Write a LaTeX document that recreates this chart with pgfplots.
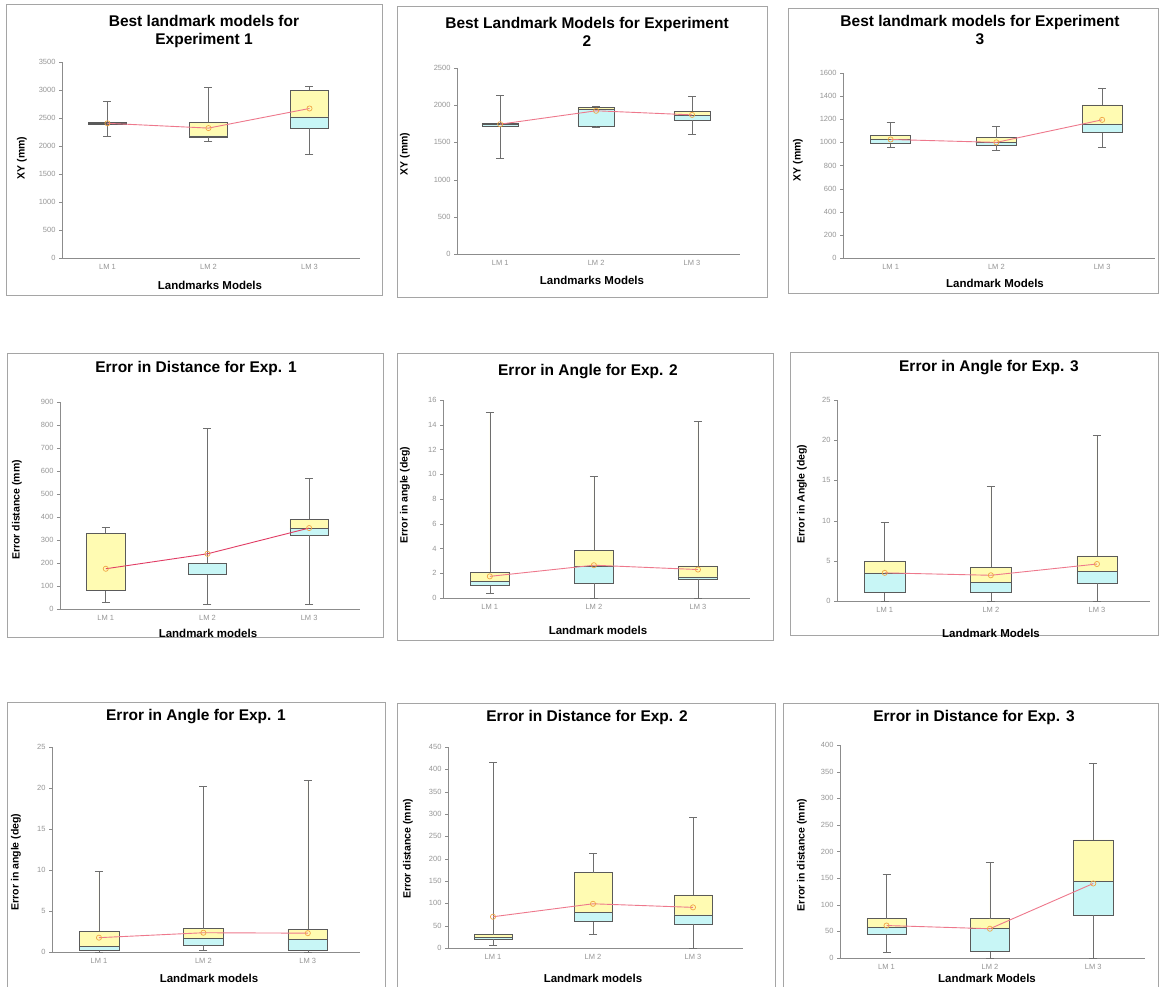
\documentclass[border=0pt]{standalone}
\usepackage{fontspec}
\setmainfont{Liberation Sans}
\usepackage{pgfplots}
\usepackage{pgfplotstable}
\pgfplotsset{compat=1.18}
\definecolor{boxcyan}{RGB}{200,246,246}
\definecolor{boxyellow}{RGB}{255,251,178}
\definecolor{boxedge}{RGB}{90,90,90}
\definecolor{whisk}{RGB}{110,110,110}
\definecolor{meanline}{RGB}{238,120,140}
\definecolor{meanred}{RGB}{225,60,100}
\definecolor{meanmark}{RGB}{240,165,70}
\definecolor{axisgray}{RGB}{140,140,140}
\definecolor{ticktext}{RGB}{150,150,150}
\definecolor{framegray}{RGB}{165,165,165}

% x lw q1 med q3 uw mean
\pgfplotstableread{
x lw q1 med q3 uw mean
1 2180 2390 2410 2425 2800 2405
2 2080 2160 2180 2420 3050 2320
3 1860 2320 2520 3000 3070 2670
}\tA
\pgfplotstableread{
x lw q1 med q3 uw mean
1 1280 1720 1740 1760 2130 1745
2 1700 1720 1940 1970 1990 1925
3 1610 1800 1860 1920 2120 1870
}\tB
\pgfplotstableread{
x lw q1 med q3 uw mean
1 960 990 1030 1060 1170 1025
2 930 975 1000 1040 1140 1000
3 960 1085 1160 1325 1470 1195
}\tC
\pgfplotstableread{
x lw q1 med q3 uw mean
1 30 80 82 330 355 175
2 20 150 198 200 786 240
3 20 320 352 390 569 352
}\tD
\pgfplotstableread{
x lw q1 med q3 uw mean
1 0.35 1.0 1.35 2.1 15.0 1.75
2 0.0 1.2 2.6 3.85 9.8 2.65
3 0.0 1.55 1.7 2.6 14.3 2.3
}\tE
\pgfplotstableread{
x lw q1 med q3 uw mean
1 0.0 1.05 3.5 4.95 9.8 3.5
2 0.0 1.05 2.3 4.2 14.3 3.2
3 0.0 2.2 3.7 5.6 20.6 4.6
}\tF
\pgfplotstableread{
x lw q1 med q3 uw mean
1 0.0 0.2 0.7 2.55 9.9 1.75
2 0.2 0.8 1.7 2.85 20.2 2.35
3 0.0 0.2 1.5 2.8 21.0 2.3
}\tG
\pgfplotstableread{
x lw q1 med q3 uw mean
1 5 20 24 30 415 70
2 30 59 80 169 212 99
3 0 54 74 119 292 91
}\tH
\pgfplotstableread{
x lw q1 med q3 uw mean
1 10 44 58 74 158 61
2 0 12 56 74 180 55
3 0 80 144 222 366 140
}\tI

\pgfplotsset{
  panel/.style={
    scale only axis, anchor=south west,
    ybar stacked, bar width=0.38,
    axis lines*=left,
    axis line style={axisgray},
    ymin=0, xmin=0.55, xmax=3.5,
    enlarge x limits=false, enlarge y limits=false,
    xtick={1,2,3}, xticklabels={LM 1,LM 2,LM 3},
    xtick style={draw=none},
    ytick style={axisgray},
    tick align=outside,
    major tick length=3pt,
    tick label style={font=\fontsize{7.5}{9}\selectfont, text=ticktext},
    /pgf/number format/assume math mode=true,
    /pgf/number format/1000 sep={},
    clip=false,
  },
  meanov/.style={
    scale only axis, anchor=south west, hide axis,
    ymin=0, xmin=0.55, xmax=3.5,
    enlarge x limits=false, enlarge y limits=false,
    clip=false,
  }
}
\newcommand{\boxplots}[1]{% table
  \addplot[draw=none, fill=none,
    error bars/.cd, y dir=minus, y explicit,
    error bar style={draw=whisk, line width=0.6pt},
    error mark options={draw=whisk, rotate=90, mark size=4pt, line width=0.6pt}]
    table[x=x, y=q1, y error minus expr=\thisrow{q1}-\thisrow{lw}] {#1};
  \addplot[fill=boxcyan, draw=boxedge, line width=0.6pt]
    table[x=x, y expr=\thisrow{med}-\thisrow{q1}] {#1};
  \addplot[fill=boxyellow, draw=boxedge, line width=0.6pt,
    error bars/.cd, y dir=plus, y explicit,
    error bar style={draw=whisk, line width=0.6pt},
    error mark options={draw=whisk, rotate=90, mark size=4pt, line width=0.6pt}]
    table[x=x, y expr=\thisrow{q3}-\thisrow{med}, y error plus expr=\thisrow{uw}-\thisrow{q3}] {#1};
}
\newcommand{\meanplot}[2]{% table, colour
  \addplot[draw=#2, line width=0.9pt, mark=o, mark size=2.6pt,
    mark options={draw=meanmark, fill=none, solid, line width=0.7pt}]
    table[x=x, y=mean] {#1};
}
\newcommand{\ttl}{\fontsize{15.5}{18}\selectfont\bfseries}
\newcommand{\lbl}{\fontsize{11.5}{13}\selectfont\bfseries}
\newcommand{\ylbl}{\fontsize{10.5}{12}\selectfont\bfseries}

\begin{document}
\begin{tikzpicture}
\useasboundingbox (0pt,0pt) rectangle (1162pt,-986pt);
\fill[white] (0pt,0pt) rectangle (1162pt,-986pt);
% frames
\begin{scope}[framegray, line width=1pt]
\draw (6pt,-4pt) rectangle (382pt,-295pt);
\draw (397pt,-6pt) rectangle (767pt,-297pt);
\draw (788pt,-8pt) rectangle (1158pt,-293pt);
\draw (7pt,-353pt) rectangle (383pt,-637pt);
\draw (397pt,-353pt) rectangle (773pt,-640pt);
\draw (790pt,-352pt) rectangle (1158pt,-635pt);
\draw (7pt,-702pt) rectangle (385pt,-995pt);
\draw (397pt,-703pt) rectangle (775pt,-995pt);
\draw (783pt,-703pt) rectangle (1158pt,-995pt);
\end{scope}

% Panel 1
\begin{axis}[panel, at={(62pt,-258pt)}, width=298pt, height=196pt, ymax=3500, ytick distance=500]
\boxplots{\tA}
\end{axis}
\begin{axis}[meanov, at={(62pt,-258pt)}, width=298pt, height=196pt, ymax=3500]
\meanplot{\tA}{meanline}
\end{axis}
\node[align=center, font=\ttl] at (204pt,-31pt) {Best landmark models for\\Experiment 1};
\node[font=\lbl] at (210pt,-285pt) {Landmarks Models};
\node[font=\ylbl, rotate=90] at (22pt,-158pt) {XY (mm)};

% Panel 2
\begin{axis}[panel, at={(457pt,-254pt)}, width=283pt, height=186pt, ymax=2500, ytick distance=500]
\boxplots{\tB}
\end{axis}
\begin{axis}[meanov, at={(457pt,-254pt)}, width=283pt, height=186pt, ymax=2500]
\meanplot{\tB}{meanline}
\end{axis}
\node[align=center, font=\ttl] at (587pt,-32pt) {Best Landmark Models for Experiment\\2};
\node[font=\lbl] at (592pt,-280pt) {Landmarks Models};
\node[font=\ylbl, rotate=90] at (405pt,-154pt) {XY (mm)};

% Panel 3
\begin{axis}[panel, at={(843pt,-258pt)}, width=312pt, height=185pt, ymax=1600, ytick distance=200]
\boxplots{\tC}
\end{axis}
\begin{axis}[meanov, at={(843pt,-258pt)}, width=312pt, height=185pt, ymax=1600]
\meanplot{\tC}{meanline}
\end{axis}
\node[align=center, font=\ttl] at (980pt,-30pt) {Best landmark models for Experiment\\3};
\node[font=\lbl] at (995pt,-283pt) {Landmark Models};
\node[font=\ylbl, rotate=90] at (798pt,-160pt) {XY (mm)};

% Panel 4
\begin{axis}[panel, at={(60pt,-609pt)}, width=300pt, height=207pt, ymax=900, ytick distance=100]
\boxplots{\tD}
\end{axis}
\begin{axis}[meanov, at={(60pt,-609pt)}, width=300pt, height=207pt, ymax=900]
\meanplot{\tD}{meanred}
\end{axis}
\node[font=\ttl] at (196pt,-368pt) {Error in Distance for Exp. 1};
\node[font=\lbl] at (208pt,-633pt) {Landmark models};
\node[font=\ylbl, rotate=90] at (17pt,-510pt) {Error distance (mm)};

% Panel 5
\begin{axis}[panel, at={(443pt,-598pt)}, width=307pt, height=198pt, ymax=16, ytick distance=2]
\boxplots{\tE}
\end{axis}
\begin{axis}[meanov, at={(443pt,-598pt)}, width=307pt, height=198pt, ymax=16]
\meanplot{\tE}{meanline}
\end{axis}
\node[font=\ttl] at (588pt,-372pt) {Error in Angle for Exp. 2};
\node[font=\lbl] at (598pt,-630pt) {Landmark models};
\node[font=\ylbl, rotate=90] at (405pt,-495pt) {Error in angle (deg)};

% Panel 6
\begin{axis}[panel, at={(837pt,-601pt)}, width=313pt, height=201pt, ymax=25, ytick distance=5]
\boxplots{\tF}
\end{axis}
\begin{axis}[meanov, at={(837pt,-601pt)}, width=313pt, height=201pt, ymax=25]
\meanplot{\tF}{meanline}
\end{axis}
\node[font=\ttl] at (989pt,-368pt) {Error in Angle for Exp. 3};
\node[font=\lbl] at (991pt,-633pt) {Landmark Models};
\node[font=\ylbl, rotate=90] at (802pt,-494pt) {Error in Angle (deg)};

% Panel 7
\begin{axis}[panel, at={(52pt,-952pt)}, width=308pt, height=205pt, ymax=25, ytick distance=5]
\boxplots{\tG}
\end{axis}
\begin{axis}[meanov, at={(52pt,-952pt)}, width=308pt, height=205pt, ymax=25]
\meanplot{\tG}{meanline}
\end{axis}
\node[font=\ttl] at (196pt,-717pt) {Error in Angle for Exp. 1};
\node[font=\lbl] at (209pt,-978pt) {Landmark models};
\node[font=\ylbl, rotate=90] at (16pt,-862pt) {Error in angle (deg)};

% Panel 8
\begin{axis}[panel, at={(448pt,-948pt)}, width=295pt, height=201pt, ymax=450, ytick distance=50]
\boxplots{\tH}
\end{axis}
\begin{axis}[meanov, at={(448pt,-948pt)}, width=295pt, height=201pt, ymax=450]
\meanplot{\tH}{meanline}
\end{axis}
\node[font=\ttl] at (587pt,-717pt) {Error in Distance for Exp. 2};
\node[font=\lbl] at (593pt,-978pt) {Landmark models};
\node[font=\ylbl, rotate=90] at (408pt,-849pt) {Error distance (mm)};

% Panel 9
\begin{axis}[panel, at={(840pt,-958pt)}, width=305pt, height=213pt, ymax=400, ytick distance=50]
\boxplots{\tI}
\end{axis}
\begin{axis}[meanov, at={(840pt,-958pt)}, width=305pt, height=213pt, ymax=400]
\meanplot{\tI}{meanline}
\end{axis}
\node[font=\ttl] at (974pt,-717pt) {Error in Distance for Exp. 3};
\node[font=\lbl] at (987pt,-978pt) {Landmark Models};
\node[font=\ylbl, rotate=90] at (802pt,-855pt) {Error in distance (mm)};
\end{tikzpicture}
\end{document}
